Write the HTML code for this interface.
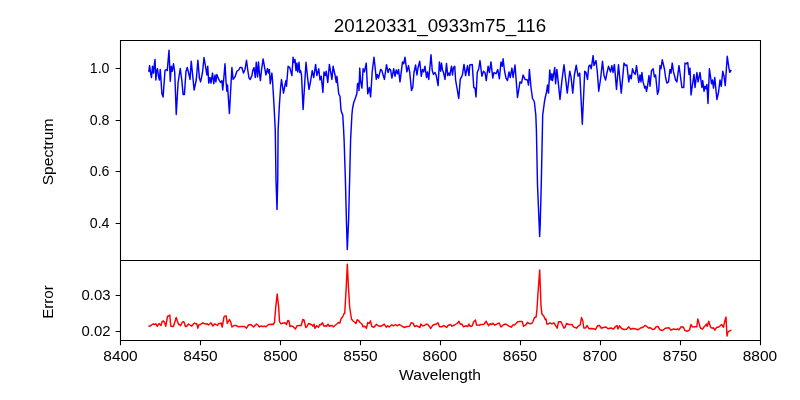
<!DOCTYPE html><html><head><meta charset="utf-8"><style>html,body{margin:0;padding:0;background:#fff;width:800px;height:400px;overflow:hidden}svg{display:block}</style></head><body><svg width="800" height="400" viewBox="0 0 800 400" style="will-change:transform">
<rect width="800" height="400" fill="#fff"/>
<polyline points="148.75,71.9 149.6,65.6 150.6,73.1 151.5,77.5 152.5,66.25 153.5,73.1 154.1,66.9 155,59.4 155.9,80 156.6,71.25 157.5,68.75 158.5,76.25 159.4,80 160.25,69.4 161,80 161.9,93.75 163.1,97 165,70.6 166.25,69.4 167.25,70.6 169,50.2 170.25,81.25 171.25,66.25 172.25,71.25 173.5,63.75 174.75,72.5 176.25,114.5 178.1,82.5 180.25,68.5 181.9,81.25 183.1,94.4 184.4,94.4 186,71.25 187.25,67.5 188.5,72.5 189.4,76.25 190,79.4 191.25,61.25 192.5,73.75 194.1,90 196.25,80 197.9,60.25 199.4,78.1 200.6,81.9 202.5,72.5 204,57.5 205.6,66.9 206.9,75 207.75,66.25 208.75,83.1 210,77.5 211,83.1 212.5,73.1 213.75,83.75 215,75 215.9,81.9 216.9,74.4 218.75,79.4 220.6,82.5 221.9,80.6 222.75,90 223.75,78.75 225,63.75 226,81.25 226.9,91.25 227.5,85 229.4,113.5 231.9,67.5 233.1,79.4 235,76.9 236.9,71.25 238.75,70 240,67.5 241.9,67.5 243.5,73.1 245,69.4 246.5,60.25 247.75,70 249,78.1 250.25,79.4 251.9,75.6 252.75,70.6 254,67.5 255.25,77.5 256.25,62.25 257.5,76.9 258.5,61.9 259.4,73.1 260.4,80.6 261.5,70 263.1,59 264.4,66.25 265.9,75 267.5,68.5 268.5,73.1 269.4,69.4 270.25,83.75 271.9,73.1 272.5,80 273.1,90 274,105 275.25,130 276,180 277,209.5 277.75,180 278.1,130 279.4,105 280.6,87.5 281.5,79.5 283.5,93.1 285,85 286,80.6 286.5,86.25 288.1,66.25 289.75,67.5 291.9,75.6 293.1,57.25 294,62.5 295,59.4 296,70.6 296.9,63.1 297.75,71.9 299,62.25 299.75,72.5 300.6,70.6 301.5,75 303.1,109.5 306,62.25 307.5,76.9 309,89.4 310.6,81.25 312.25,70.6 313.75,77.5 315.6,64.4 316.9,75.6 318.75,68.75 320,80 321.25,76.25 322.9,92.5 324,71.9 325.25,75.6 326.25,71.25 327.75,82.5 329.4,64.4 331.9,79.4 333.1,66.25 335,75 336.25,82.5 336.9,76.25 338.75,94 340,96.25 341,110 341.9,113.1 342.75,115 343.5,127.5 344.1,140 345.4,180 346.4,220 347.3,249.6 348.6,220 349.6,180 350.6,140 351.9,115 352.5,108.75 353.75,102.5 355.6,97.5 356.9,93.5 357.5,83.75 358.5,83.1 359,90.6 359.75,68.1 360.6,81.25 361.9,88.1 363.1,68.75 364.4,71.9 366.25,63.1 367.75,93.75 369.4,87.5 370.6,96.9 372.25,71.25 374,57.25 375.25,68.75 376.25,79.4 377.25,74.4 378.5,78.1 380.6,69.4 381.9,70.6 383.1,75 384.4,79.4 386.5,64.75 388.1,72.5 389.4,68.75 390.6,70 391.9,78.1 393.75,68.75 395,76.25 396.25,70 397.5,73.75 398.5,69.4 400,81.9 402.5,61.9 403.75,63.75 405,57.25 406.9,71.9 408.5,65.6 409.75,72.5 411.5,90.6 412.75,87.5 414,72.5 415.6,65 416.9,75 418.1,67.5 419.75,61.25 421.25,76.25 422.5,69.4 423.75,71.9 425,66.25 426.5,77.5 427.5,71.9 428.75,79.4 431,54.75 432.25,70.6 433.5,74.4 435,72.5 436.25,75.6 438.1,85.6 439.4,61.9 440.6,71.25 441.5,63.1 442.5,70 443.5,72.5 445,79.4 446.5,63.5 447.75,75.6 448.75,73.1 449.75,75.6 451.5,66.25 452.5,75 453.5,67.5 454.75,66.25 455.6,80 458.75,98.5 460.25,79.4 461.5,76.9 462.5,74.4 464,64.4 465.6,75.6 467.5,65.6 469,75.6 469.75,65 472.25,64.4 473.75,87.5 475,88.1 476,97 477.25,72.5 478.75,68.75 480,60.6 481.9,76.25 483.5,71.25 485,72.5 486.25,80.6 488.1,66.25 489.4,72.5 491,61.9 492.75,78.1 494,72.5 496,73.75 497.75,69.4 499.4,78.75 501,61.9 502.25,66.25 503.1,58.75 504.4,70 506,78.1 507.5,80.6 509,71.9 510.25,77.5 511.9,68.1 513.1,77.5 515,65 517.5,97.5 520,81.9 521.5,83.1 523.1,75 525,79.4 527.5,80 528.5,85 529.4,69.4 531,87.5 532.5,98.5 534.3,101.5 535.8,115 536.4,130 537.5,185 539.2,225 539.65,236.5 540.2,225 541.25,185 542.4,130 542.7,115 544.5,101.5 545.2,97.75 546.75,91 547.5,85 548.5,93.1 549.75,70 551,80 551.9,73.75 552.5,80.6 553.5,75 554.75,67.5 555.6,83.75 556.9,69.4 560,99.4 561.9,80.6 564,64.75 567.25,93.1 569.75,71.25 571,76.9 572.75,93.1 574.4,75 576.25,65.25 578.1,76.25 579.75,73.1 582.3,124.3 584.75,71.25 586,72.5 587.5,79.4 588.75,66.25 590,65 591.25,68.75 593.1,55.6 594,65.6 596,60.6 597.25,71.25 598.75,91.25 600.6,78.75 602.5,61.25 604,75.6 605.6,80 606.9,73.1 608.5,66.25 610.6,71.9 611.9,65.6 613.1,72.5 614.4,64.4 616.5,89.4 618.5,64.75 621.25,93.1 624,63.1 625.6,65.6 626.9,65 628.75,81.9 630,75 631.25,78.75 632.5,68.75 633.75,72.5 635.25,74.4 636.5,65.6 638.75,82.5 640,75 641,81.9 641.9,72.5 643.1,81.9 644.75,88.1 645.6,86.25 646.5,91.25 647.5,86.25 649,75.6 650,86.25 651.5,70.6 653.1,68.75 654.4,76.9 655.6,75 657.5,94.4 658.75,90 660,65.6 661,68.75 662.25,59.75 664.4,68.75 665.6,77.5 666.9,83.1 668.5,81.9 670,69.4 671,73.1 672.25,63.1 673.5,71.9 675.6,80 676.9,81.9 679,65.6 680.25,75 681.9,87.5 683.75,87.5 685,63.1 686.5,63.75 687.75,62.5 689,74.4 690,68.1 691,95 694,74.4 695,87.5 696.9,72.5 698.1,81.9 700,72.5 701.9,87.5 702.75,80.6 704,91.25 705,86.25 706,88.75 706.9,84.4 708,103.5 709.4,68.75 711.5,83.75 712.5,80 713.5,88.1 714.75,77.5 716.9,99.5 718.5,92.5 720,80 721.25,86.25 722.75,71.25 724,76.25 725.25,85.6 727.25,56.25 728.75,66.9 729.75,72.25 731.25,70" fill="none" stroke="#0000ff" stroke-width="1.45" stroke-linejoin="round" stroke-linecap="butt"/>
<polyline points="148.5,325.8 150,326.2 152,324.5 153.5,324 155,324.5 156,323.8 156.8,325.8 157.5,326.2 159,323.5 160,324.5 161,325.5 162.2,321.5 163.5,321 164.5,322.5 165.8,326.2 167.5,316.5 168.5,316 169.8,315 170.8,326 172.5,326.5 173.5,326.2 175,321.5 176.2,317.5 177.5,321.5 178.5,324.2 179.5,324.5 180.5,325.8 182,322.8 183.2,321.5 184,322 185.5,326.5 187,326 188.5,324 190,325 191.8,326.2 193.2,324.2 194.5,323 196,324 196.8,323.8 197.8,328.2 199,324.8 200.5,324.5 202.8,322.8 204,323.5 206,324 207.2,323.8 208.5,325 211,322.8 213,326 214.5,324 216,324.5 217.5,325.5 218.5,323.5 220,323.5 221.2,323 222.2,327 224,317 225,316 226.2,316 227.2,323.5 229.5,319.5 230.5,321.5 232,327 234,325.5 236,325.5 238.5,326.8 241,326.5 244.5,326.5 246.5,328.2 248.5,325 251,324.5 253.5,327 256.5,324 258,325.2 259.5,327 261,326 263,326.5 264.5,326.2 266,326.8 268.5,324.5 271,324.2 273,324.5 274.5,322.5 275.7,307.5 277.2,294 278.7,307.5 279.5,321.7 281,323.8 283,323 285,322.8 286.5,324.5 287.8,320.5 289,321 290,326.5 291.5,325.8 293,326.5 295.5,329 297,325.8 300,325.5 301.2,325.5 302.8,319.5 304,320 305.8,327.5 307,326.5 308.5,323.5 310,324 312,325 313,326.2 314,324.2 315,328.2 316.8,325.8 318.5,327.2 319.8,324.5 321,324.8 322.5,322.8 324,326.2 325.5,325.8 326.5,326.2 328,324.2 329.2,326.2 330.5,325.8 331.8,325.5 333.5,326.8 335.5,325 337.5,323.5 338.5,322.5 339.8,323.2 341.2,318.5 342.5,317 343.5,315 344,313.5 344.7,313.5 346.2,288 347.3,264.3 348.5,288 349.7,307.5 351.5,319 353,321 354.5,322 356,323.5 357.2,319.8 358.5,320.5 360,322.5 362,324 363,326.8 364.8,326.2 366.5,328.2 367.8,322.5 369.2,323.5 370.5,320.8 371.8,326.5 374,327.2 376.5,324.2 378.2,325.8 380,326.2 382,325.8 384.2,324.2 386.2,327.2 387.8,325.8 389.2,327 391.8,324.8 393.5,325.8 395.5,324.5 397,325.8 399.5,324.5 401.5,325.8 404.5,327.5 406.8,326.5 409.5,326.2 411.2,322.8 413.2,323.2 414.5,326.5 417,325.8 420,327.5 420.8,324 422.5,325.8 424,325.8 426,324.2 427.5,324.2 429.2,326.2 430.8,328.5 432.5,325.5 434.5,324.5 436.5,324 438,322.8 439.5,326.8 441.5,326.8 444,325.5 446.5,327.5 448,325.5 450.5,324.5 452,326.2 454.5,325 457,323.5 459,321.2 460,324 461.8,324 463.5,326.8 465.5,325.8 467.8,326.5 469,324 470,326.2 472,326.2 473.8,321.5 475.5,320 476.5,325 479,325.2 481,324.5 484,324.2 486.2,321.2 488.5,325.8 490,323.8 491.8,324.5 493,323.2 494.8,325.2 497.2,323.8 499.2,323 501,327 503.5,324.8 505.8,324 509,326.2 511.2,327.2 512.8,325 514.5,325 517.8,321.8 519.5,321.5 522.2,321.5 523.5,326.2 525.5,325.2 527.5,322.5 530,323.8 532,323.2 533,321.5 534.5,317.5 536.1,317 537,308.9 537.9,294.5 539.7,270 540.6,294 541,306.2 542,314.3 543.75,316 545.1,319.3 546,318.8 546.8,324 548.5,324 550,322.8 551.8,323.8 554,323 556,326.2 557.2,328.2 558.5,321.8 561,321.8 564,328.2 565,327.5 566.5,323.5 568.5,324.5 572,324.5 573.5,326.8 576.5,328.2 578.5,325.8 580.2,325 581.5,317.5 582.8,321 583.8,328 585.5,328 587.2,325.5 589,328.8 591.5,328.5 594,328.8 595.5,329.5 597.5,325.8 599.5,325.5 601.2,328.2 603.5,327.5 606,327 608,328.8 611,328 613.5,329 615.5,326.5 617,325.5 618,329 619.5,325.8 621.5,328.5 624,329.5 626.5,329.2 628.8,326.8 630.5,329.2 632.5,328.5 635,328.8 638,329.8 640.5,328 643,327.2 645,325.5 646.5,326.2 648.5,328 650.5,327.8 652.5,329.5 654.5,329 656,326.8 658,326.5 660,329.8 662.5,330.5 665.5,328.2 669,327.8 671,330.2 673.5,329 676,329.5 677.5,329 679,329.8 681.2,326.8 683.5,327.2 684.8,330.5 687.5,331.2 689.5,330 691,324.5 692.5,327 694.5,326.8 696.8,326.8 697.8,319 699,322.8 700,327 701,328.5 702.5,329 704.2,326.8 705.5,325.5 706.5,324 707.2,326.2 708.8,321.2 710.5,327 712,328.2 713.5,327.8 714.8,330.2 716.8,327.2 718.5,327.2 721.5,324.5 723.5,327.2 724.8,321 726,317 727,336 728,331.8 729.2,331.2 731.5,330.2" fill="none" stroke="#ff0000" stroke-width="1.45" stroke-linejoin="round" stroke-linecap="butt"/>
<path d="M120.5,40.5H760.5V340.5H120.5Z M120.5,260.5H760.5" fill="none" stroke="#000" stroke-width="1.1" stroke-linejoin="miter" stroke-linecap="square"/>
<path d="M115.64,68.5H120.5 M115.64,120.5H120.5 M115.64,171.5H120.5 M115.64,223.5H120.5 M115.64,295.5H120.5 M115.64,331.5H120.5 M120.5,340.5V345.36 M200.5,340.5V345.36 M280.5,340.5V345.36 M360.5,340.5V345.36 M440.5,340.5V345.36 M520.5,340.5V345.36 M600.5,340.5V345.36 M680.5,340.5V345.36 M760.5,340.5V345.36" fill="none" stroke="#000" stroke-width="1.1"/>
<text transform="translate(440,32) scale(1.073,1)" text-anchor="middle" font-size="17.5" font-family="Liberation Sans, sans-serif" fill="#000">20120331_0933m75_116</text>
<text transform="translate(109.5,73.2) scale(1,1)" text-anchor="end" font-size="14.2" font-family="Liberation Sans, sans-serif" fill="#000">1.0</text>
<text transform="translate(109.5,125.2) scale(1,1)" text-anchor="end" font-size="14.2" font-family="Liberation Sans, sans-serif" fill="#000">0.8</text>
<text transform="translate(109.5,176.2) scale(1,1)" text-anchor="end" font-size="14.2" font-family="Liberation Sans, sans-serif" fill="#000">0.6</text>
<text transform="translate(109.5,228.2) scale(1,1)" text-anchor="end" font-size="14.2" font-family="Liberation Sans, sans-serif" fill="#000">0.4</text>
<text transform="translate(110.5,300.2) scale(1.05,1)" text-anchor="end" font-size="14.2" font-family="Liberation Sans, sans-serif" fill="#000">0.03</text>
<text transform="translate(110.5,336.2) scale(1.05,1)" text-anchor="end" font-size="14.2" font-family="Liberation Sans, sans-serif" fill="#000">0.02</text>
<text transform="translate(120.5,361) scale(1.09,1)" text-anchor="middle" font-size="14.2" font-family="Liberation Sans, sans-serif" fill="#000">8400</text>
<text transform="translate(200.5,361) scale(1.09,1)" text-anchor="middle" font-size="14.2" font-family="Liberation Sans, sans-serif" fill="#000">8450</text>
<text transform="translate(280.5,361) scale(1.09,1)" text-anchor="middle" font-size="14.2" font-family="Liberation Sans, sans-serif" fill="#000">8500</text>
<text transform="translate(360.5,361) scale(1.09,1)" text-anchor="middle" font-size="14.2" font-family="Liberation Sans, sans-serif" fill="#000">8550</text>
<text transform="translate(439.8,361) scale(1.09,1)" text-anchor="middle" font-size="14.2" font-family="Liberation Sans, sans-serif" fill="#000">8600</text>
<text transform="translate(520.0,361) scale(1.09,1)" text-anchor="middle" font-size="14.2" font-family="Liberation Sans, sans-serif" fill="#000">8650</text>
<text transform="translate(599.9,361) scale(1.09,1)" text-anchor="middle" font-size="14.2" font-family="Liberation Sans, sans-serif" fill="#000">8700</text>
<text transform="translate(680.0,361) scale(1.09,1)" text-anchor="middle" font-size="14.2" font-family="Liberation Sans, sans-serif" fill="#000">8750</text>
<text transform="translate(759.9,361) scale(1.09,1)" text-anchor="middle" font-size="14.2" font-family="Liberation Sans, sans-serif" fill="#000">8800</text>
<text transform="translate(440,380) scale(1.1,1)" text-anchor="middle" font-size="14.2" font-family="Liberation Sans, sans-serif" fill="#000">Wavelength</text>
<text transform="translate(53,152) rotate(-90) scale(1.1,1)" text-anchor="middle" font-size="14.2" font-family="Liberation Sans, sans-serif" fill="#000">Spectrum</text>
<text transform="translate(53,302) rotate(-90) scale(1.066,1)" text-anchor="middle" font-size="14.2" font-family="Liberation Sans, sans-serif" fill="#000">Error</text>
</svg></body></html>
